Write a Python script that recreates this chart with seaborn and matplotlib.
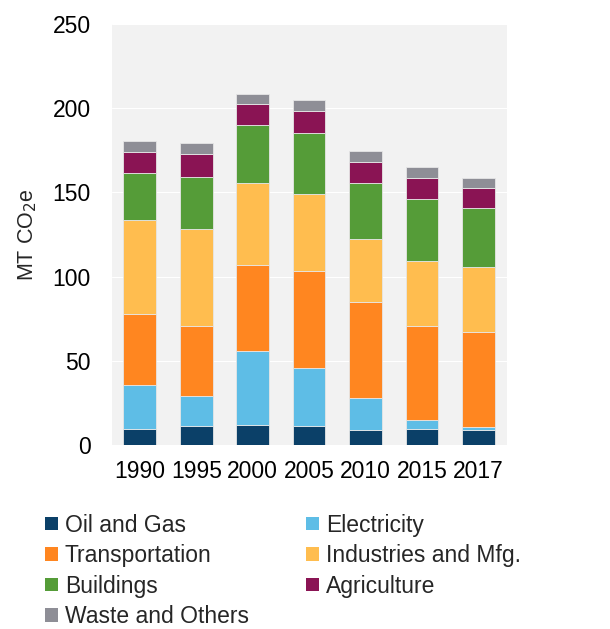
import numpy as np
import matplotlib
matplotlib.use("Agg")
import matplotlib.pyplot as plt
from matplotlib.patches import Patch
import seaborn as sns

years = ["1990", "1995", "2000", "2005", "2010", "2015", "2017"]
sectors = ["Oil and Gas", "Electricity", "Transportation", "Industries and Mfg.",
           "Buildings", "Agriculture", "Waste and Others"]
oil_gas = [9.7, 11.1, 11.9, 11.1, 9.1, 9.7, 9.1]
electricity = [26.2, 17.9, 43.9, 34.5, 19.1, 5.2, 1.4]
transportation = [42.1, 41.8, 50.9, 57.6, 56.9, 55.9, 56.8]
industries = [55.5, 57.2, 48.7, 46.0, 37.5, 38.3, 38.3]
buildings = [28.0, 31.1, 34.7, 36.1, 33.0, 36.9, 34.9]
agriculture = [12.3, 13.7, 12.7, 12.9, 12.7, 12.3, 12.3]
waste = [6.6, 6.6, 5.7, 6.6, 6.1, 6.6, 5.9]
series = [oil_gas, electricity, transportation, industries, buildings, agriculture, waste]
colors = ["#0B4068", "#5EBDE6", "#FF8620", "#FFBD4F", "#559C38", "#8A1454", "#8E8E96"]
yticks = [0, 50, 100, 150, 200, 250]

sns.set_style("darkgrid", {"axes.facecolor": "#F2F2F2", "grid.color": "white",
                           "grid.linewidth": 1.6, "axes.edgecolor": "#F2F2F2"})
plt.rcParams["font.family"] = ["Liberation Sans", "DejaVu Sans"]

fig = plt.figure(figsize=(6.1, 6.29), dpi=100)
ax = fig.add_axes([0.183, 0.2925, 0.6475, 0.6693])

bottom = np.zeros(len(years))
for vals, c in zip(series, colors):
    sns.barplot(x=years, y=vals, bottom=bottom, color=c, saturation=1, width=0.58,
                errorbar=None, edgecolor="#E6E6E6", linewidth=0.6, ax=ax, order=years)
    bottom = bottom + np.array(vals)

ax.set_xlim(-0.5, 6.5)
ax.set_ylim(0, 250)
ax.set_yticks(yticks)
ax.set_yticklabels([str(t) for t in yticks])
ax.tick_params(axis="both", length=0, labelsize=16.5, colors="black")
ax.tick_params(axis="y", pad=15)
ax.tick_params(axis="x", pad=11)
ax.grid(axis="x", visible=False)
for s in ax.spines.values():
    s.set_visible(False)
ax.set_xlabel("")
ax.set_ylabel("MT CO$_2$e", fontsize=15.5, labelpad=10)

handles = [Patch(facecolor=c, edgecolor="none", label=l) for c, l in zip(colors, sectors)]
order = [0, 2, 4, 6, 1, 3, 5]
fig.legend([handles[i] for i in order], [sectors[i] for i in order], ncol=2,
           loc="upper left", bbox_to_anchor=(0.0744, 0.1836), frameon=False,
           fontsize=16.5, handlelength=0.55, handleheight=0.55, handletextpad=0.3,
           labelspacing=0.33, columnspacing=2.5, borderaxespad=0, borderpad=0)

fig.savefig("out.png", dpi=100)
